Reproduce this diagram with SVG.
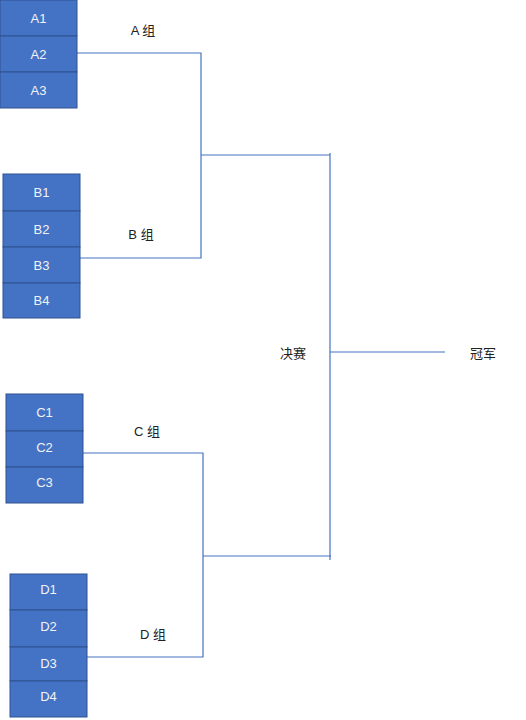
<svg xmlns="http://www.w3.org/2000/svg" width="526" height="720" viewBox="0 0 526 720">
<style>
.box{fill:#4472C4;stroke:#2F528F;stroke-width:1}
.bt{fill:#f2f2f2;font-family:"Liberation Sans","Noto Sans CJK SC",sans-serif;font-size:13px;text-anchor:middle;dominant-baseline:central}
.lb{fill:#222;font-family:"Liberation Sans","Noto Sans CJK SC",sans-serif;font-size:13px;text-anchor:middle;dominant-baseline:central}
.ln{fill:none;stroke:#4472C4;stroke-width:1.2}
</style>
<rect width="526" height="720" fill="#fff"/>
<g id="connectors">
<polyline class="ln" points="77,53 201,53 201,258 80,258"/>
<polyline class="ln" points="83,453 203,453 203,657 87,657"/>
<line class="ln" x1="201" y1="155" x2="330" y2="155"/>
<line class="ln" x1="203" y1="556" x2="331" y2="556"/>
<line class="ln" x1="330" y1="153" x2="330" y2="560"/>
<line class="ln" x1="330" y1="352" x2="445" y2="352"/>
</g>
<g id="A1"><rect class="box" x="0" y="0" width="77" height="36"/><text class="bt" x="38.5" y="18">A1</text></g>
<g id="A2"><rect class="box" x="0" y="36" width="77" height="36"/><text class="bt" x="38.5" y="54">A2</text></g>
<g id="A3"><rect class="box" x="0" y="72" width="77" height="36"/><text class="bt" x="38.5" y="90">A3</text></g>
<g id="B1"><rect class="box" x="3" y="174" width="77" height="37"/><text class="bt" x="41.5" y="192">B1</text></g>
<g id="B2"><rect class="box" x="3" y="211" width="77" height="36"/><text class="bt" x="41.5" y="229">B2</text></g>
<g id="B3"><rect class="box" x="3" y="247" width="77" height="36"/><text class="bt" x="41.5" y="265">B3</text></g>
<g id="B4"><rect class="box" x="3" y="283" width="77" height="35"/><text class="bt" x="41.5" y="300">B4</text></g>
<g id="C1"><rect class="box" x="6" y="394" width="77" height="37"/><text class="bt" x="44.5" y="412">C1</text></g>
<g id="C2"><rect class="box" x="6" y="431" width="77" height="36"/><text class="bt" x="44.5" y="447">C2</text></g>
<g id="C3"><rect class="box" x="6" y="467" width="77" height="36"/><text class="bt" x="44.5" y="482">C3</text></g>
<g id="D1"><rect class="box" x="10" y="574" width="77" height="36"/><text class="bt" x="48.5" y="589">D1</text></g>
<g id="D2"><rect class="box" x="10" y="610" width="77" height="37"/><text class="bt" x="48.5" y="626">D2</text></g>
<g id="D3"><rect class="box" x="10" y="647" width="77" height="34"/><text class="bt" x="48.5" y="663">D3</text></g>
<g id="D4"><rect class="box" x="10" y="681" width="77" height="36"/><text class="bt" x="48.5" y="696">D4</text></g>
<g id="labelA"><text class="lb" x="143" y="30">A 组</text></g>
<g id="labelB"><text class="lb" x="141" y="234">B 组</text></g>
<g id="labelC"><text class="lb" x="147" y="431">C 组</text></g>
<g id="labelD"><text class="lb" x="153" y="634">D 组</text></g>
<g id="final"><text class="lb" x="293" y="353">决赛</text></g>
<g id="champion"><text class="lb" x="483" y="353">冠军</text></g>
</svg>
